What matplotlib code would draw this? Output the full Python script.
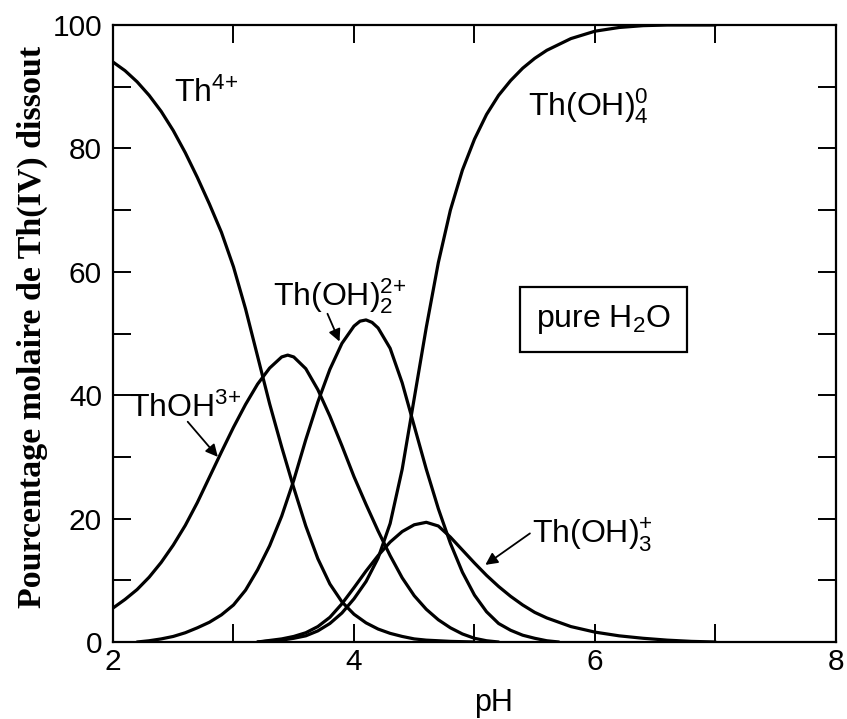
import matplotlib.pyplot as plt
from matplotlib.ticker import MultipleLocator

# Spéciation de Th(IV) dans l'eau pure en fonction du pH
plt.rcParams['font.family'] = ['Liberation Sans', 'DejaVu Sans']
plt.rcParams['mathtext.default'] = 'regular'

# Th4+
ph_th4 = [2.0, 2.1, 2.2, 2.3, 2.4, 2.5, 2.6, 2.7, 2.8, 2.9, 3.0, 3.1, 3.2, 3.3, 3.4,
          3.5, 3.6, 3.7, 3.8, 3.9, 4.0, 4.1, 4.2, 4.3, 4.4, 4.5, 4.6, 4.8, 5.0]
th4 = [94.0, 92.6, 90.8, 88.6, 86.0, 82.9, 79.3, 75.3, 71.0, 66.4, 60.8, 54.0, 46.3, 38.6, 31.6,
       25.0, 18.8, 13.5, 9.4, 6.5, 4.5, 3.1, 2.1, 1.4, 0.9, 0.5, 0.3, 0.1, 0.0]

# ThOH3+
ph_th1 = [2.0, 2.1, 2.2, 2.3, 2.4, 2.5, 2.6, 2.7, 2.8, 2.9, 3.0, 3.1, 3.2, 3.3, 3.4, 3.45, 3.5, 3.6,
          3.7, 3.8, 3.9, 4.0, 4.1, 4.2, 4.3, 4.4, 4.5, 4.6, 4.7, 4.8, 4.9, 5.0, 5.1, 5.2]
th1 = [5.5, 6.9, 8.5, 10.5, 12.9, 15.7, 18.9, 22.6, 26.7, 30.8, 34.8, 38.5, 41.8, 44.4, 46.2, 46.5, 46.2, 44.3,
       40.9, 36.6, 31.8, 26.8, 22.3, 18.0, 14.0, 10.4, 7.5, 5.3, 3.6, 2.3, 1.3, 0.6, 0.2, 0.0]

# Th(OH)2 2+
ph_th2 = [2.2, 2.3, 2.4, 2.5, 2.6, 2.7, 2.8, 2.9, 3.0, 3.1, 3.2, 3.3, 3.4, 3.5, 3.6, 3.7, 3.8, 3.9,
          4.0, 4.05, 4.1, 4.15, 4.2, 4.3, 4.4, 4.5, 4.6, 4.7, 4.8, 4.9, 5.0, 5.1, 5.2, 5.3, 5.4, 5.5,
          5.6, 5.7]
th2 = [0.0, 0.2, 0.5, 0.9, 1.5, 2.3, 3.2, 4.4, 6.0, 8.4, 11.7, 15.6, 20.4, 26.2, 32.8, 38.9, 44.2, 48.4,
       51.2, 52.0, 52.2, 51.8, 50.9, 47.6, 42.0, 35.0, 28.0, 21.6, 16.0, 11.3, 7.6, 4.9, 3.0, 1.9, 1.1, 0.6,
       0.2, 0.0]

# Th(OH)3+
ph_th3 = [3.2, 3.4, 3.5, 3.6, 3.7, 3.8, 3.9, 4.0, 4.1, 4.2, 4.3, 4.4, 4.5, 4.6, 4.7, 4.8,
          4.9, 5.0, 5.1, 5.2, 5.3, 5.4, 5.5, 5.6, 5.8, 6.0, 6.2, 6.4, 6.6, 6.8, 7.0]
th3 = [0.0, 0.5, 0.9, 1.5, 2.5, 4.0, 6.2, 8.8, 11.5, 14.0, 16.2, 17.9, 19.0, 19.4, 18.8, 17.0,
       14.9, 12.8, 10.8, 9.0, 7.4, 6.0, 4.8, 3.9, 2.5, 1.6, 1.0, 0.6, 0.3, 0.1, 0.0]

# Th(OH)4 0
ph_th4h = [3.2, 3.4, 3.5, 3.6, 3.7, 3.8, 3.9, 4.0, 4.1, 4.2, 4.3, 4.4, 4.5, 4.6, 4.7,
           4.8, 4.9, 5.0, 5.1, 5.2, 5.3, 5.4, 5.5, 5.6, 5.8, 6.0, 6.2, 6.4, 6.6, 7.0]
th4h = [0.0, 0.3, 0.6, 1.0, 1.8, 3.0, 4.7, 7.0, 9.8, 13.6, 19.2, 28.0, 39.5, 51.0, 61.5,
        70.0, 76.5, 81.5, 85.5, 88.6, 91.0, 93.0, 94.6, 95.9, 97.8, 99.0, 99.6, 99.9, 100.0, 100.0]

fig = plt.figure(figsize=(8.47, 7.19), dpi=100)
ax = fig.add_axes([0.1334, 0.1071, 0.8536, 0.8581])

for x, y in [(ph_th4, th4), (ph_th1, th1), (ph_th2, th2), (ph_th3, th3), (ph_th4h, th4h)]:
    ax.plot(x, y, color='black', lw=2.3, solid_capstyle='round', solid_joinstyle='round')

ax.set_xlim(2, 8)
ax.set_ylim(0, 100)
ax.xaxis.set_major_locator(MultipleLocator(2))
ax.xaxis.set_minor_locator(MultipleLocator(1))
ax.yaxis.set_major_locator(MultipleLocator(20))
ax.yaxis.set_minor_locator(MultipleLocator(10))
ax.tick_params(which='both', direction='in', top=True, right=True, length=13, width=1.4,
               labelsize=21.5)
ax.tick_params(axis='x', pad=4)
ax.tick_params(axis='y', pad=8)
for s in ax.spines.values():
    s.set_linewidth(1.6)

ax.set_xlabel('pH', fontsize=22)
ax.xaxis.set_label_coords(0.527, -0.075)
ax.set_ylabel('Pourcentage molaire de Th(IV) dissout', fontsize=24.5,
              family='Liberation Serif', fontweight='bold')
ax.yaxis.set_label_coords(-0.09, 0.51)

# étiquettes des espèces
fs = 23
ax.text(2.51, 87.6, r'Th$^{4{+}}$', fontsize=fs, ha='left', va='baseline')
ax.text(5.44, 85.4, r'Th(OH)$_4^0$', fontsize=fs, ha='left', va='baseline')
ax.text(3.33, 54.6, r'Th(OH)$_2^{2{+}}$', fontsize=fs, ha='left', va='baseline')
ax.text(2.13, 36.5, r'ThOH$^{3{+}}$', fontsize=fs, ha='left', va='baseline')
ax.text(5.48, 16.0, r'Th(OH)$_3^{+}$', fontsize=fs, ha='left', va='baseline')

arrow = dict(arrowstyle='-|>', color='black', lw=1.3, mutation_scale=18, shrinkA=0, shrinkB=0)
ax.annotate('', xy=(3.88, 48.7), xytext=(3.78, 53.2), arrowprops=arrow)
ax.annotate('', xy=(2.87, 30.0), xytext=(2.62, 35.7), arrowprops=arrow)
ax.annotate('', xy=(5.09, 12.5), xytext=(5.46, 17.6), arrowprops=arrow)

ax.text(6.07, 52.2, r'pure H$_2$O', fontsize=fs, ha='center', va='center',
        bbox=dict(boxstyle='square,pad=0.5', fc='white', ec='black', lw=1.6))

fig.savefig('out.png', dpi=100)
